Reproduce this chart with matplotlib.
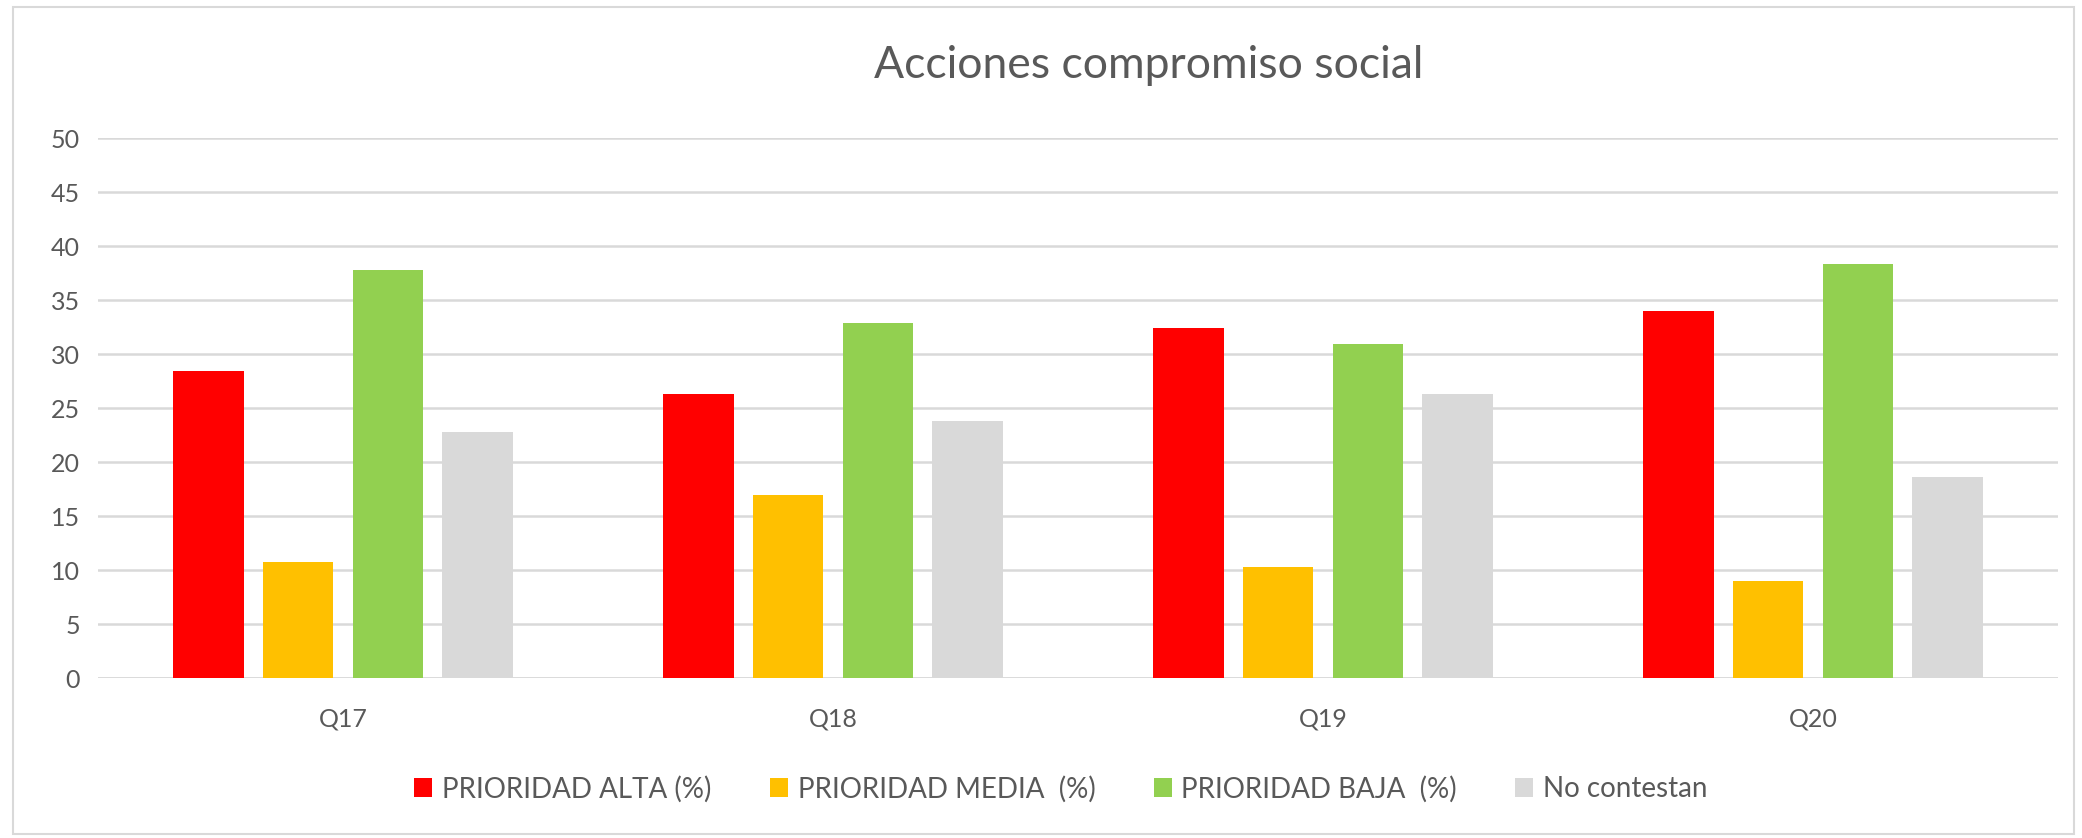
import matplotlib
matplotlib.use("Agg")
import matplotlib.pyplot as plt
from matplotlib.patches import Rectangle, Patch
import numpy as np

plt.rcParams['font.family'] = ['Lato', 'DejaVu Sans']

categories = ["Q17", "Q18", "Q19", "Q20"]
series_names = ["PRIORIDAD ALTA (%)", "PRIORIDAD MEDIA  (%)", "PRIORIDAD BAJA  (%)", "No contestan"]
alta = [28.4, 26.3, 32.4, 34.0]
media = [10.7, 16.9, 10.3, 9.0]
baja = [37.8, 32.9, 30.9, 38.3]
no_contestan = [22.8, 23.8, 26.3, 18.6]
colors = ["#FF0000", "#FFC000", "#92D050", "#D9D9D9"]
yticks = [0, 5, 10, 15, 20, 25, 30, 35, 40, 45, 50]

W, H = 2082, 838
fig = plt.figure(figsize=(W / 100, H / 100), dpi=100)

# chart border
fig.patches.append(Rectangle((13 / W, 1 - 834 / H), (2074 - 13) / W, (834 - 7) / H,
                             transform=fig.transFigure, fill=False,
                             edgecolor="#D9D9D9", linewidth=1.5))

ax = fig.add_axes([98 / W, 1 - 678 / H, (2058 - 98) / W, (678 - 138) / H])
x = np.arange(len(categories))
step = 0.183
width = 0.143
data = [alta, media, baja, no_contestan]
for i, (vals, c, name) in enumerate(zip(data, colors, series_names)):
    ax.bar(x + (i - 1.5) * step, vals, width=width, color=c, label=name, zorder=3)

ax.set_xlim(-0.5, len(categories) - 0.5)
ax.set_ylim(0, 50)
ax.set_yticks(yticks)
ax.set_xticks(x)
ax.set_xticklabels(categories)
for s in ax.spines.values():
    s.set_visible(False)
ax.yaxis.grid(True, color="#D9D9D9", linewidth=1.8, zorder=0)
ax.set_axisbelow(True)
ax.tick_params(axis='y', length=0, pad=13, labelsize=18, labelcolor="#595959")
ax.tick_params(axis='x', length=0, pad=21, labelsize=18, labelcolor="#595959")
ax.axhline(0, color="#D9D9D9", linewidth=1.8, zorder=1)

fig.text(1149 / W, 1 - 66 / H, "Acciones compromiso social", ha="center", va="center",
         fontsize=32, color="#595959")

handles = [Patch(facecolor=c, edgecolor='none') for c in colors]
fig.legend(handles, series_names, loc="center", bbox_to_anchor=(1061 / W, 1 - 789 / H),
           ncol=4, frameon=False, fontsize=20, labelcolor="#595959",
           handlelength=0.65, handleheight=0.65, handletextpad=0.35, columnspacing=2.1)

fig.savefig("out.png", dpi=100)
